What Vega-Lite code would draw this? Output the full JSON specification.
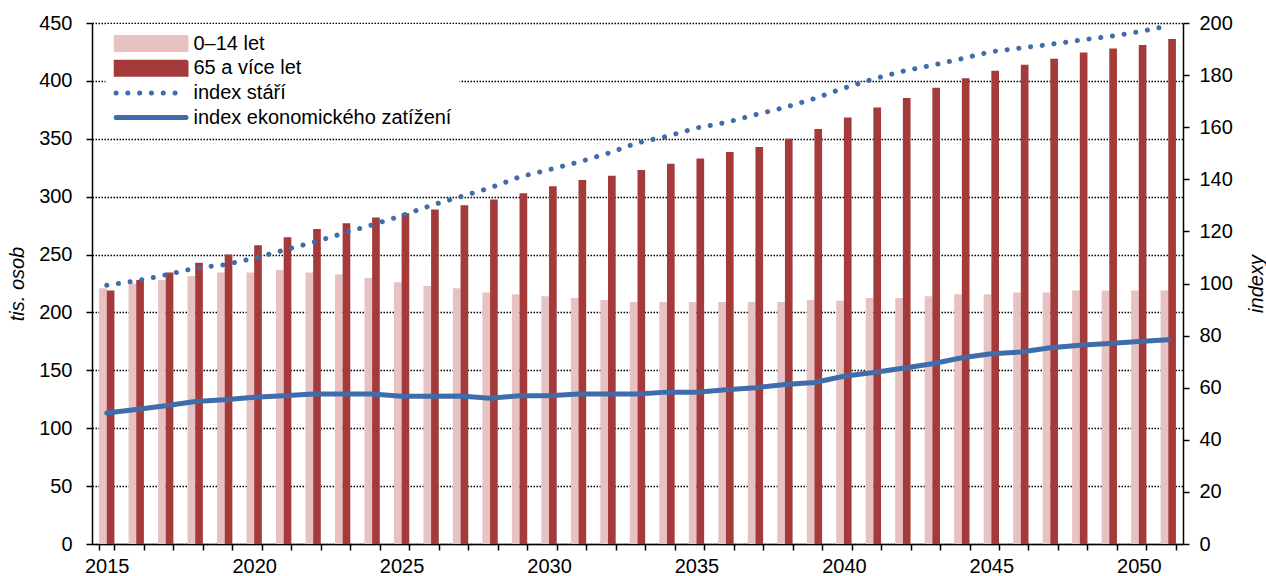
{
  "$schema": "https://vega.github.io/schema/vega-lite/v6.json",
  "width": 1091,
  "height": 521,
  "autosize": {"type": "none"},
  "padding": {"left": 92, "top": 23, "right": 83, "bottom": 32},
  "background": "white",
  "config": {
    "font": "Liberation Sans",
    "view": {"stroke": null},
    "axis": {
      "labelFont": "Liberation Sans",
      "labelFontSize": 20,
      "labelColor": "black",
      "titleFont": "Liberation Sans",
      "titleFontSize": 20,
      "titleFontWeight": "normal",
      "titleFontStyle": "italic",
      "titleColor": "black",
      "domainColor": "black",
      "domainWidth": 1.5,
      "tickColor": "black",
      "tickWidth": 1.5,
      "tickSize": 6
    },
    "legend": {
      "labelFont": "Liberation Sans",
      "labelFontSize": 20,
      "labelColor": "black"
    }
  },
  "datasets": {
    "bars": [
      {"year": 2015, "group": "0–14 let", "value": 221}, {"year": 2015, "group": "65 a více let", "value": 219},
      {"year": 2016, "group": "0–14 let", "value": 225}, {"year": 2016, "group": "65 a více let", "value": 228},
      {"year": 2017, "group": "0–14 let", "value": 228}, {"year": 2017, "group": "65 a více let", "value": 234.6},
      {"year": 2018, "group": "0–14 let", "value": 231.5}, {"year": 2018, "group": "65 a více let", "value": 243},
      {"year": 2019, "group": "0–14 let", "value": 234.6}, {"year": 2019, "group": "65 a více let", "value": 250},
      {"year": 2020, "group": "0–14 let", "value": 234.6}, {"year": 2020, "group": "65 a více let", "value": 258},
      {"year": 2021, "group": "0–14 let", "value": 236.6}, {"year": 2021, "group": "65 a více let", "value": 265},
      {"year": 2022, "group": "0–14 let", "value": 234.6}, {"year": 2022, "group": "65 a více let", "value": 272},
      {"year": 2023, "group": "0–14 let", "value": 233}, {"year": 2023, "group": "65 a více let", "value": 277},
      {"year": 2024, "group": "0–14 let", "value": 229.7}, {"year": 2024, "group": "65 a více let", "value": 282},
      {"year": 2025, "group": "0–14 let", "value": 226}, {"year": 2025, "group": "65 a více let", "value": 285.7},
      {"year": 2026, "group": "0–14 let", "value": 222.8}, {"year": 2026, "group": "65 a více let", "value": 289},
      {"year": 2027, "group": "0–14 let", "value": 221}, {"year": 2027, "group": "65 a více let", "value": 292.5},
      {"year": 2028, "group": "0–14 let", "value": 217.3}, {"year": 2028, "group": "65 a více let", "value": 297.5},
      {"year": 2029, "group": "0–14 let", "value": 215.8}, {"year": 2029, "group": "65 a více let", "value": 303},
      {"year": 2030, "group": "0–14 let", "value": 214}, {"year": 2030, "group": "65 a více let", "value": 309},
      {"year": 2031, "group": "0–14 let", "value": 212.4}, {"year": 2031, "group": "65 a více let", "value": 314.5},
      {"year": 2032, "group": "0–14 let", "value": 210.7}, {"year": 2032, "group": "65 a více let", "value": 318},
      {"year": 2033, "group": "0–14 let", "value": 209}, {"year": 2033, "group": "65 a více let", "value": 323},
      {"year": 2034, "group": "0–14 let", "value": 209}, {"year": 2034, "group": "65 a více let", "value": 328.4},
      {"year": 2035, "group": "0–14 let", "value": 209}, {"year": 2035, "group": "65 a více let", "value": 333},
      {"year": 2036, "group": "0–14 let", "value": 209}, {"year": 2036, "group": "65 a více let", "value": 338.5},
      {"year": 2037, "group": "0–14 let", "value": 209}, {"year": 2037, "group": "65 a více let", "value": 343},
      {"year": 2038, "group": "0–14 let", "value": 209}, {"year": 2038, "group": "65 a více let", "value": 350},
      {"year": 2039, "group": "0–14 let", "value": 210.7}, {"year": 2039, "group": "65 a více let", "value": 358.5},
      {"year": 2040, "group": "0–14 let", "value": 210}, {"year": 2040, "group": "65 a více let", "value": 368.4},
      {"year": 2041, "group": "0–14 let", "value": 212.4}, {"year": 2041, "group": "65 a více let", "value": 377},
      {"year": 2042, "group": "0–14 let", "value": 212.4}, {"year": 2042, "group": "65 a více let", "value": 385.3},
      {"year": 2043, "group": "0–14 let", "value": 214}, {"year": 2043, "group": "65 a více let", "value": 394},
      {"year": 2044, "group": "0–14 let", "value": 215.8}, {"year": 2044, "group": "65 a více let", "value": 402.3},
      {"year": 2045, "group": "0–14 let", "value": 215.8}, {"year": 2045, "group": "65 a více let", "value": 408.7},
      {"year": 2046, "group": "0–14 let", "value": 217.3}, {"year": 2046, "group": "65 a více let", "value": 414},
      {"year": 2047, "group": "0–14 let", "value": 217.3}, {"year": 2047, "group": "65 a více let", "value": 419.2},
      {"year": 2048, "group": "0–14 let", "value": 218.9}, {"year": 2048, "group": "65 a více let", "value": 424.5},
      {"year": 2049, "group": "0–14 let", "value": 218.9}, {"year": 2049, "group": "65 a více let", "value": 428},
      {"year": 2050, "group": "0–14 let", "value": 218.9}, {"year": 2050, "group": "65 a více let", "value": 431},
      {"year": 2051, "group": "0–14 let", "value": 218.9}, {"year": 2051, "group": "65 a více let", "value": 436.2}
    ],
    "idx": [
      {"year": 2015, "stari": 99.3, "ekon": 50.3},
      {"year": 2016, "stari": 101, "ekon": 51.6},
      {"year": 2017, "stari": 103.3, "ekon": 53.1},
      {"year": 2018, "stari": 105.9, "ekon": 54.7},
      {"year": 2019, "stari": 107.2, "ekon": 55.4},
      {"year": 2020, "stari": 109.7, "ekon": 56.3},
      {"year": 2021, "stari": 112.8, "ekon": 56.9},
      {"year": 2022, "stari": 115.8, "ekon": 57.6},
      {"year": 2023, "stari": 119.2, "ekon": 57.6},
      {"year": 2024, "stari": 122.5, "ekon": 57.6},
      {"year": 2025, "stari": 126, "ekon": 56.7},
      {"year": 2026, "stari": 130, "ekon": 56.7},
      {"year": 2027, "stari": 133.3, "ekon": 56.8},
      {"year": 2028, "stari": 136.7, "ekon": 56},
      {"year": 2029, "stari": 140.9, "ekon": 56.9},
      {"year": 2030, "stari": 143.7, "ekon": 56.9},
      {"year": 2031, "stari": 146.6, "ekon": 57.6},
      {"year": 2032, "stari": 150, "ekon": 57.6},
      {"year": 2033, "stari": 154, "ekon": 57.6},
      {"year": 2034, "stari": 156.5, "ekon": 58.3},
      {"year": 2035, "stari": 159.7, "ekon": 58.3},
      {"year": 2036, "stari": 161.8, "ekon": 59.2},
      {"year": 2037, "stari": 164.8, "ekon": 60},
      {"year": 2038, "stari": 167.6, "ekon": 61.2},
      {"year": 2039, "stari": 171, "ekon": 62},
      {"year": 2040, "stari": 175, "ekon": 64.4},
      {"year": 2041, "stari": 178.5, "ekon": 65.8},
      {"year": 2042, "stari": 181.5, "ekon": 67.5},
      {"year": 2043, "stari": 183.8, "ekon": 69.2},
      {"year": 2044, "stari": 186.3, "ekon": 71.5},
      {"year": 2045, "stari": 189, "ekon": 73},
      {"year": 2046, "stari": 190.4, "ekon": 73.7},
      {"year": 2047, "stari": 191.8, "ekon": 75.3},
      {"year": 2048, "stari": 193.4, "ekon": 76.3},
      {"year": 2049, "stari": 194.8, "ekon": 77},
      {"year": 2050, "stari": 196.6, "ekon": 77.7},
      {"year": 2051, "stari": 198.9, "ekon": 78.4}
    ]
  },
  "layer": [
    {
      "data": {"name": "bars"},
      "mark": {"type": "bar"},
      "encoding": {
        "x": {
          "field": "year",
          "type": "ordinal",
          "scale": {"paddingInner": 0.48, "paddingOuter": 0.24},
          "axis": {
            "title": null,
            "labelAngle": 0,
            "labelExpr": "datum.value % 5 === 0 ? datum.label : ''",
            "labelOverlap": false,
            "tickBand": "extent",
            "labelPadding": 6,
            "grid": false
          }
        },
        "xOffset": {
          "field": "group",
          "type": "nominal",
          "scale": {"domain": ["0–14 let", "65 a více let"], "paddingInner": 0, "paddingOuter": 0}
        },
        "y": {
          "field": "value",
          "type": "quantitative",
          "scale": {"domain": [0, 450], "nice": false},
          "axis": {
            "title": "tis. osob",
            "values": [0, 50, 100, 150, 200, 250, 300, 350, 400, 450],
            "grid": true,
            "gridColor": "black",
            "gridDash": [1.5, 1.5],
            "gridWidth": 1.5,
            "labelPadding": 14,
            "titlePadding": 11
          }
        },
        "color": {
          "field": "group",
          "type": "nominal",
          "scale": {
            "domain": ["0–14 let", "65 a více let", "index stáří", "index ekonomického zatížení"],
            "range": ["#E8C2C2", "#A43A3A", "#3F6CAA", "#3F6CAA"]
          },
          "legend": {
            "title": null,
            "orient": "none",
            "legendX": 13.5,
            "legendY": 1,
            "padding": 8,
            "fillColor": "white",
            "clipHeight": 23,
            "rowPadding": 1.7,
            "symbolSize": 4900,
            "symbolStrokeWidth": 5,
            "symbolOffset": 0,
            "labelOffset": 5,
            "labelLimit": 400,
            "encode": {
              "symbols": {
                "update": {
                  "shape": {"signal": "(datum.value === '0–14 let' || datum.value === '65 a více let') ? 'M-1,-0.17H1V0.17H-1Z' : 'stroke'"},
                  "fill": {"signal": "(datum.value === '0–14 let' || datum.value === '65 a více let') ? scale('color', datum.value) : 'transparent'"},
                  "stroke": {"signal": "(datum.value === '0–14 let' || datum.value === '65 a více let') ? 'transparent' : scale('color', datum.value)"},
                  "strokeDash": {"signal": "datum.value === 'index stáří' ? [0.1, 11.7] : [1, 0]"},
                  "strokeCap": {"value": "round"},
                  "strokeWidth": {"value": 5},
                  "size": {"value": 4900},
                  "opacity": {"value": 1}
                }
              }
            }
          }
        }
      }
    },
    {
      "data": {"name": "idx"},
      "layer": [
        {
          "mark": {"type": "line", "strokeDash": [0.1, 11.7], "strokeCap": "round", "strokeWidth": 5},
          "encoding": {
            "x": {"field": "year", "type": "ordinal"},
            "y": {
              "field": "stari",
              "type": "quantitative",
              "scale": {"domain": [0, 200], "nice": false},
              "axis": {
                "orient": "right",
                "title": "indexy",
                "values": [0, 20, 40, 60, 80, 100, 120, 140, 160, 180, 200],
                "grid": false,
                "labelPadding": 10,
                "titlePadding": 14,
                "titleAngle": 270,
                "titleBaseline": "top"
              }
            },
            "color": {"datum": "index stáří", "type": "nominal"}
          }
        },
        {
          "mark": {"type": "line", "strokeWidth": 5, "strokeCap": "round"},
          "encoding": {
            "x": {"field": "year", "type": "ordinal"},
            "y": {
              "field": "ekon",
              "type": "quantitative",
              "scale": {"domain": [0, 200], "nice": false},
              "axis": {
                "orient": "right",
                "title": "indexy",
                "values": [0, 20, 40, 60, 80, 100, 120, 140, 160, 180, 200],
                "grid": false,
                "labelPadding": 10,
                "titlePadding": 14,
                "titleAngle": 270,
                "titleBaseline": "top"
              }
            },
            "color": {"datum": "index ekonomického zatížení", "type": "nominal"}
          }
        }
      ]
    }
  ],
  "resolve": {"scale": {"y": "independent"}}
}
